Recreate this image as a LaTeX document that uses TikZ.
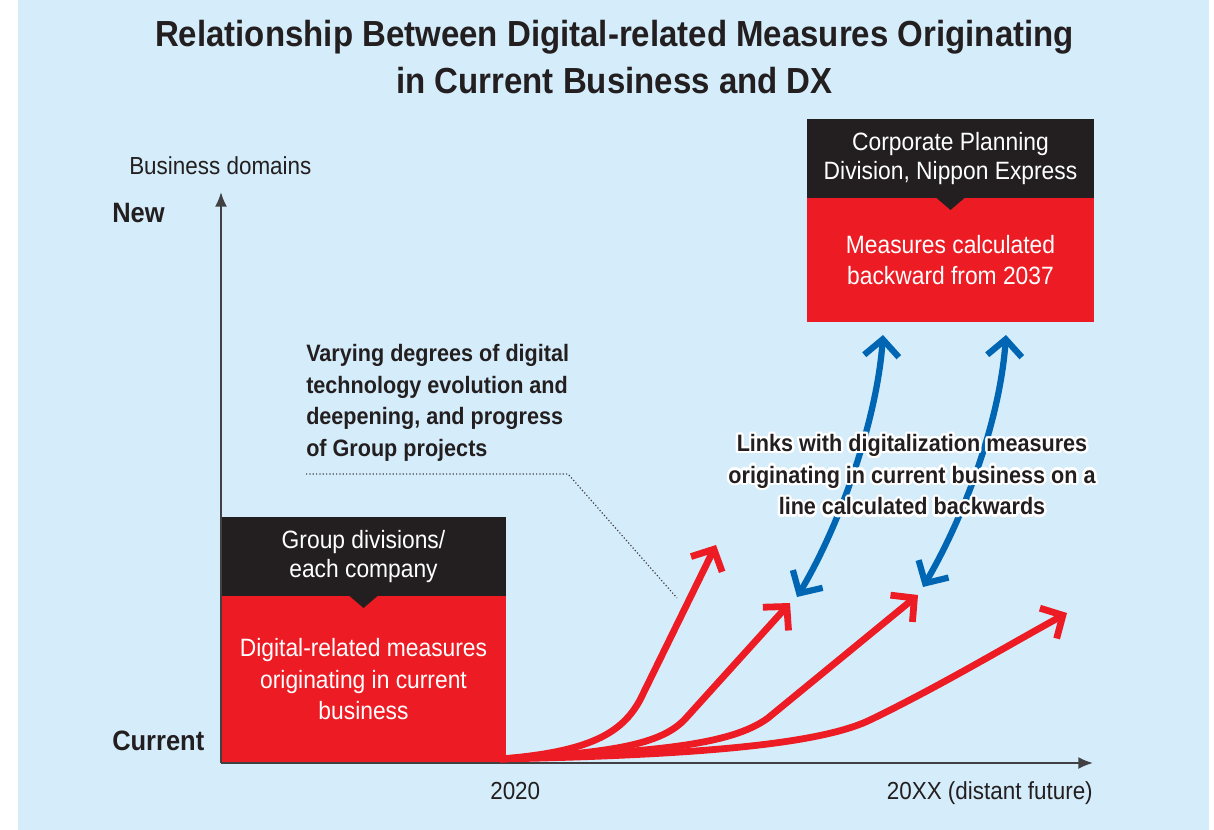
\documentclass[tikz,border=0pt]{standalone}
\usepackage{fontspec}
\setmainfont{Liberation Sans}[FakeStretch=0.91]
\usetikzlibrary{arrows.meta,positioning}

\definecolor{skybg}{HTML}{D5EDFA}
\definecolor{nxred}{HTML}{ED1C24}
\definecolor{nxblack}{HTML}{231F20}
\definecolor{nxblue}{HTML}{0066B3}
\definecolor{axisgray}{HTML}{414042}
\newcommand{\pxu}{0.75pt}
\newcommand{\linkstext}{Links with digitalization measures\\originating in current business on a\\line calculated backwards}

\tikzset{
  headbox/.style={fill=nxblack, text=white, align=center, inner sep=0pt, outer sep=0pt,
    minimum height=79*\pxu, font=\fontsize{18.8}{21.8}\selectfont},
  bodybox/.style={fill=nxred, text=white, align=center, inner sep=0pt, outer sep=0pt,
    font=\fontsize{18.8}{23.6}\selectfont},
  axis/.style={draw=axisgray, line width=1.5pt, -{Latex[length=11pt,width=9pt]}},
  barb/.tip={Straight Barb[sharp,length=12.5pt,width=26pt]},
  growth/.style={draw=nxred, line width=5.1pt, -barb},
  link/.style={draw=nxblue, line width=4.7pt, barb-barb},
  leader/.style={draw=axisgray, line width=0.9pt, dash pattern=on 0.9pt off 1.6pt},
  label/.style={inner sep=0pt, text=nxblack, font=\fontsize{18.5}{22}\selectfont},
  level/.style={inner sep=0pt, anchor=north west, text=nxblack, font=\bfseries\fontsize{21}{24}\selectfont},
  strong/.style={inner sep=0pt, text=nxblack, font=\bfseries\fontsize{17.8}{23.8}\selectfont},
  linktext/.style={strong, align=center, anchor=north}
}

\begin{document}
\begin{tikzpicture}[x=\pxu, y=-\pxu]
    \useasboundingbox (0,0) rectangle (1214,830);
    \fill[white] (0,0) rectangle (1214,830);
    \fill[skybg] (18,0) rectangle (1209,830);

    \node[anchor=north, align=center, inner sep=0pt, text=nxblack,
      font=\bfseries\fontsize{27.2}{35.2}\selectfont] (title) at (614.5,20)
      {Relationship Between Digital-related Measures Originating\\in Current Business and DX};

    % boxes with their notch
    \node[headbox, minimum width=285*\pxu] (grphead) at (363.5,556.5) {Group divisions/\\each company};
    \node[bodybox, minimum width=285*\pxu, minimum height=167*\pxu, below=0pt of grphead] (grpbody)
      {Digital-related measures\\originating in current\\business};
    \fill[nxblack] ([xshift=-14*\pxu]grphead.south) -- ([xshift=14*\pxu]grphead.south)
      -- ([yshift=-12*\pxu]grphead.south) -- cycle;

    \node[headbox, minimum width=287*\pxu] (cpdhead) at (950.5,158.5) {Corporate Planning\\Division, Nippon Express};
    \node[bodybox, minimum width=287*\pxu, minimum height=124*\pxu, below=0pt of cpdhead] (cpdbody)
      {Measures calculated\\backward from 2037};
    \fill[nxblack] ([xshift=-14*\pxu]cpdhead.south) -- ([xshift=14*\pxu]cpdhead.south)
      -- ([yshift=-12*\pxu]cpdhead.south) -- cycle;

    % axes
    \coordinate (origin) at (221,763);
    \coordinate (ytip) at (221,192);
    \coordinate (xtip) at (1093,763);
    \draw[axis] (origin) -- (ytip);
    \draw[axis] (origin) -- (xtip);
    \node[label, anchor=north west] (domains) at (129,156) {Business domains};
    \node[level] (new) at (112,203) {New};
    \node[level] (current) at (112,731) {Current};
    \node[label, anchor=north west] (now) at (490,782) {2020};
    \node[label, anchor=north east] (future) at (1093,781) {20XX (distant future)};

    % note and its dotted leader
    \node[strong, anchor=north west, align=left] (varying) at (306,344)
      {Varying degrees of digital\\technology evolution and\\deepening, and progress\\of Group projects};
    \coordinate (lead0) at (306,474);
    \coordinate (lead1) at (568,474);
    \coordinate (lead2) at (677,598);
    \draw[leader] (lead0) -- (lead1) -- (lead2);

    % growth curves
    \coordinate (start) at (500,759);
    \coordinate (g1) at (716,545);
    \coordinate (g2) at (790,603);
    \coordinate (g3) at (918,595);
    \coordinate (g4) at (1067,613);
    \draw[growth] (start) .. controls (700,755) and (820,744) .. (870,720) .. controls (940,686) and (1000,650) .. (g4);
    \draw[growth] (start) .. controls (650,752) and (730,746) .. (768,718) -- (g3);
    \draw[growth] (start) .. controls (610,753) and (662,745) .. (686,718) -- (g2);
    \draw[growth] (start) .. controls (590,752) and (622,733) .. (640,700) -- (g1);

    % links to the backward line
    \coordinate (l1a) at (797,597);
    \coordinate (l1b) at (883,335);
    \coordinate (l2a) at (923,587);
    \coordinate (l2b) at (1006,335);
    \draw[link] (l1a) .. controls (840,525) and (877,420) .. (l1b);
    \draw[link] (l2a) .. controls (965,515) and (1000,420) .. (l2b);

    \coordinate (linkpos) at (912,434);
    \foreach \a [count=\i] in {0,22.5,...,337.5}
      \node[linktext, text=white] (halo\i) at ([shift={(\a:1.8pt)}]linkpos) {\linkstext};
    \node[linktext] (links) at (linkpos) {\linkstext};
\end{tikzpicture}
\end{document}
